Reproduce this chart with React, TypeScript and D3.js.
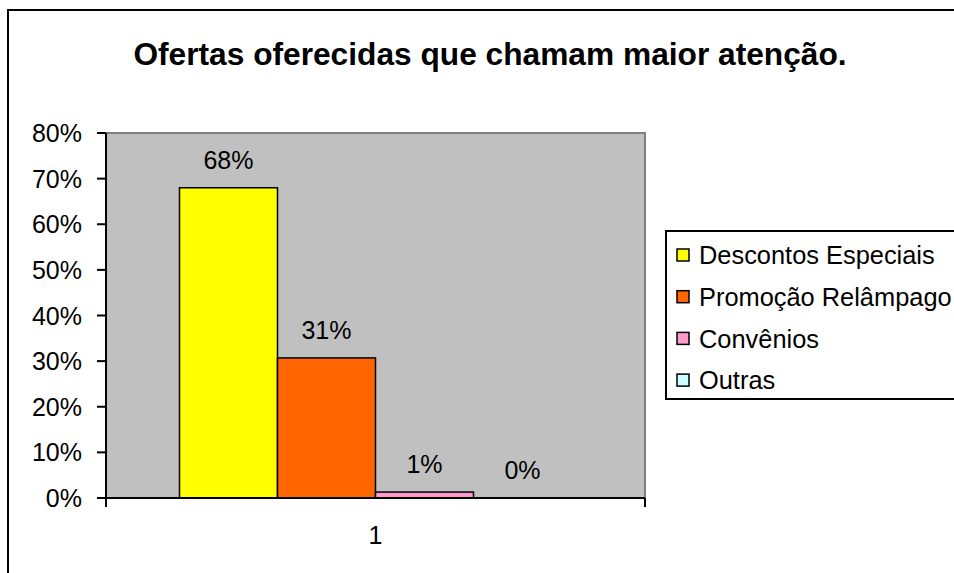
import * as d3 from 'd3';

const title = 'Ofertas oferecidas que chamam maior atenção.';
const categories = ['1'];
const seriesNames = ['Descontos Especiais', 'Promoção Relâmpago', 'Convênios', 'Outras'];
const seriesValues = [0.68, 0.307, 0.013, 0];
const seriesColors = ['#FFFF00', '#FF6600', '#FF99CC', '#CCFFFF'];
const yTicks = [0, 0.1, 0.2, 0.3, 0.4, 0.5, 0.6, 0.7, 0.8];

const W = 954;
const H = 573;
const font = '"Liberation Sans", Arial, sans-serif';

export default function App() {
  const plot = { left: 106, top: 133, right: 645, bottom: 498 };

  const y = d3.scaleLinear().domain([0, 0.8]).range([plot.bottom, plot.top]);
  // one category, bars take up ~73% of the plot width (Excel gap width 150%)
  const x0 = d3
    .scaleBand<string>()
    .domain(categories)
    .range([plot.left, plot.right])
    .paddingOuter(0.1875);
  const x1 = d3
    .scaleBand<string>()
    .domain(seriesNames)
    .range([0, x0.bandwidth()]);
  const pct = d3.format('.0%');

  return (
    <svg
      width={W}
      height={H}
      style={{ position: 'absolute', left: 0, top: 0, display: 'block' }}
      fontFamily={font}
    >
      <rect x={0} y={0} width={W} height={H} fill="#fff" />
      {/* chart frame, running off the right and bottom */}
      <rect x={8} y={10} width={W + 10} height={H + 10} fill="none" stroke="#000" strokeWidth={2} />

      <text x={490} y={65} textAnchor="middle" fontSize={31.7} fontWeight="bold">
        {title}
      </text>

      {/* plot area */}
      <rect
        x={plot.left}
        y={plot.top}
        width={plot.right - plot.left}
        height={plot.bottom - plot.top}
        fill="#C0C0C0"
        stroke="#808080"
        strokeWidth={2}
      />

      {categories.map((c) => (
        <g key={c} transform={`translate(${x0(c)},0)`}>
          {seriesNames.map((s, i) => (
            <g key={s}>
              <rect
                x={x1(s)}
                y={y(seriesValues[i])}
                width={x1.bandwidth()}
                height={y(0) - y(seriesValues[i])}
                fill={seriesColors[i]}
                stroke="#000"
                strokeWidth={1.5}
              />
              <text
                x={(x1(s) as number) + x1.bandwidth() / 2}
                y={y(seriesValues[i]) - 19}
                textAnchor="middle"
                fontSize={25}
              >
                {pct(seriesValues[i])}
              </text>
            </g>
          ))}
          <text x={x0.bandwidth() / 2} y={544} textAnchor="middle" fontSize={25}>
            {c}
          </text>
        </g>
      ))}

      {/* y axis */}
      <line x1={plot.left} x2={plot.left} y1={plot.top} y2={plot.bottom} stroke="#000" strokeWidth={2} />
      {yTicks.map((t) => (
        <g key={t}>
          <line x1={plot.left - 9} x2={plot.left} y1={y(t)} y2={y(t)} stroke="#000" strokeWidth={2} />
          <text x={82} y={y(t)} dy="0.36em" textAnchor="end" fontSize={25}>
            {pct(t)}
          </text>
        </g>
      ))}

      {/* x axis */}
      <line x1={plot.left} x2={plot.right} y1={plot.bottom} y2={plot.bottom} stroke="#000" strokeWidth={2} />
      {[plot.left, plot.right].map((px) => (
        <line key={px} x1={px} x2={px} y1={plot.bottom} y2={plot.bottom + 9} stroke="#000" strokeWidth={2} />
      ))}

      {/* legend */}
      <rect x={666} y={231} width={W} height={168} fill="#fff" stroke="#000" strokeWidth={2} />
      {seriesNames.map((s, i) => {
        const cy = 255 + i * 41.7;
        return (
          <g key={s}>
            <rect x={677} y={cy - 6} width={12} height={12} fill={seriesColors[i]} stroke="#000" strokeWidth={1.5} />
            <text x={699} y={cy} dy="0.36em" fontSize={25.4}>
              {s}
            </text>
          </g>
        );
      })}
    </svg>
  );
}
